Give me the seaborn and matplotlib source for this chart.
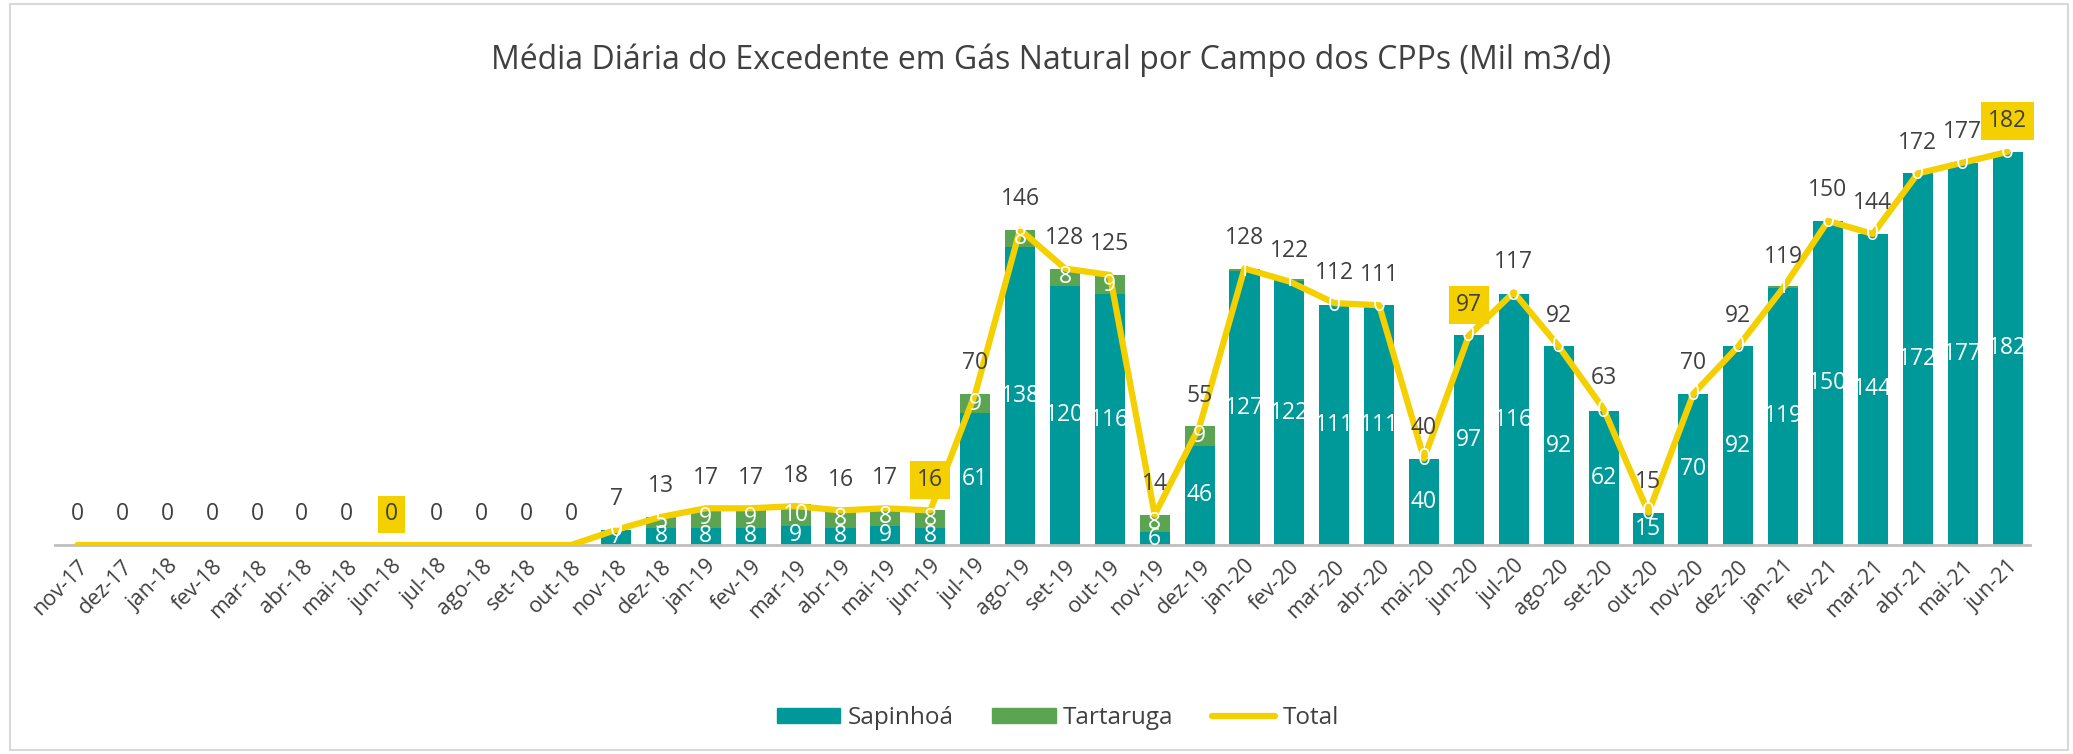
import numpy as np
import pandas as pd
import matplotlib
matplotlib.use("Agg")
import matplotlib.pyplot as plt
import seaborn as sns
from matplotlib.patches import Rectangle

months = ["nov-17", "dez-17", "jan-18", "fev-18", "mar-18", "abr-18", "mai-18", "jun-18",
          "jul-18", "ago-18", "set-18", "out-18", "nov-18", "dez-18", "jan-19", "fev-19",
          "mar-19", "abr-19", "mai-19", "jun-19", "jul-19", "ago-19", "set-19", "out-19",
          "nov-19", "dez-19", "jan-20", "fev-20", "mar-20", "abr-20", "mai-20", "jun-20",
          "jul-20", "ago-20", "set-20", "out-20", "nov-20", "dez-20", "jan-21", "fev-21",
          "mar-21", "abr-21", "mai-21", "jun-21"]
sapinhoa = [0, 0, 0, 0, 0, 0, 0, 0, 0, 0, 0, 0, 7, 8, 8, 8, 9, 8, 9, 8, 61, 138, 120, 116,
            6, 46, 127, 122, 111, 111, 40, 97, 116, 92, 62, 15, 70, 92, 119, 150, 144, 172, 177, 182]
tartaruga = [0, 0, 0, 0, 0, 0, 0, 0, 0, 0, 0, 0, 0, 5, 9, 9, 10, 8, 8, 8, 9, 8, 8, 9,
             8, 9, 1, 1, 0, 0, 0, 0, 0, 0, 0, 0, 0, 0, 1, 0, 0, 0, 0, 0]
total = [0, 0, 0, 0, 0, 0, 0, 0, 0, 0, 0, 0, 7, 13, 17, 17, 18, 16, 17, 16, 70, 146, 128, 125,
         14, 55, 128, 122, 112, 111, 40, 97, 117, 92, 63, 15, 70, 92, 119, 150, 144, 172, 177, 182]
highlight = ["jun-18", "jun-19", "jun-20", "jun-21"]
has_data = [False] * 12 + [True] * 32

title = "Média Diária do Excedente em Gás Natural por Campo dos CPPs (Mil m3/d)"

TEAL = "#009999"
GREEN = "#5BA552"
YELLOW = "#F5D000"
TXT = "#404040"

sns.set_theme(style="white")
plt.rcParams["font.family"] = ["Open Sans", "DejaVu Sans"]

df = pd.DataFrame({"mes": months, "Sapinhoá": sapinhoa, "Tartaruga": tartaruga, "Total": total})
df["stack"] = df["Sapinhoá"] + df["Tartaruga"]

fig = plt.figure(figsize=(20.73, 7.54), dpi=100)
ax = fig.add_axes([55 / 2073, 1 - 545 / 754, (2030 - 55) / 2073, (545 - 113) / 754])

sns.barplot(data=df, x="mes", y="stack", color=GREEN, saturation=1, width=0.67, ax=ax,
            linewidth=0)
sns.barplot(data=df, x="mes", y="Sapinhoá", color=TEAL, saturation=1, width=0.67, ax=ax,
            linewidth=0)
pos = np.arange(len(months))
sns.lineplot(x=pos, y=df["Total"], color=YELLOW, linewidth=4.5, ax=ax, sort=False,
             solid_capstyle="round", solid_joinstyle="round", zorder=5)

ax.set_ylim(0, 200)
ax.set_xlim(-0.5, len(months) - 0.5)
ax.set_xlabel("")
ax.set_ylabel("")
ax.set_yticks([])
for s in ["top", "right", "left"]:
    ax.spines[s].set_visible(False)
ax.spines["bottom"].set_color("#BFBFBF")
ax.spines["bottom"].set_linewidth(2)
ax.set_xticks(pos)
ax.set_xticklabels(months, rotation=45, ha="right", rotation_mode="anchor",
                   fontsize=15.5, color=TXT)
ax.tick_params(axis="x", length=0, pad=8)
ax.grid(False)

fs = 16.5
for i in range(len(months)):
    bb = dict(boxstyle="square,pad=0.3", fc=YELLOW, ec="none") if months[i] in highlight else None
    ax.annotate(str(total[i]), (pos[i], total[i]), xytext=(0, 22), textcoords="offset points",
                ha="center", va="center", fontsize=fs, color=TXT, zorder=7, bbox=bb)
    if not has_data[i]:
        continue
    ax.text(pos[i], sapinhoa[i] / 2, str(sapinhoa[i]), ha="center", va="center",
            fontsize=fs, color="white", zorder=6)
    ax.text(pos[i], sapinhoa[i] + tartaruga[i] / 2, str(tartaruga[i]), ha="center", va="center",
            fontsize=fs, color="white", zorder=6)

if ax.get_legend():
    ax.get_legend().remove()
handles = [Rectangle((0, 0), 1, 1, color=TEAL), Rectangle((0, 0), 1, 1, color=GREEN),
           plt.Line2D([0], [0], color=YELLOW, linewidth=4.5, solid_capstyle="round")]
fig.legend(handles, ["Sapinhoá", "Tartaruga", "Total"], loc="center",
           bbox_to_anchor=(1058 / 2073, 1 - 718 / 754),
           ncol=3, frameon=False, fontsize=17.5, handlelength=2.6, handleheight=0.6,
           columnspacing=1.6, handletextpad=0.3, labelcolor=TXT)

fig.text(1051 / 2073, 1 - 60 / 754, title, ha="center", va="center", fontsize=23, color=TXT)

fig.patches.append(Rectangle((10 / 2073, 4 / 754), 2058 / 2073, 746 / 754, transform=fig.transFigure,
                             fill=False, ec="#D9D9D9", lw=1.5))

fig.savefig("out.png", dpi=100)
